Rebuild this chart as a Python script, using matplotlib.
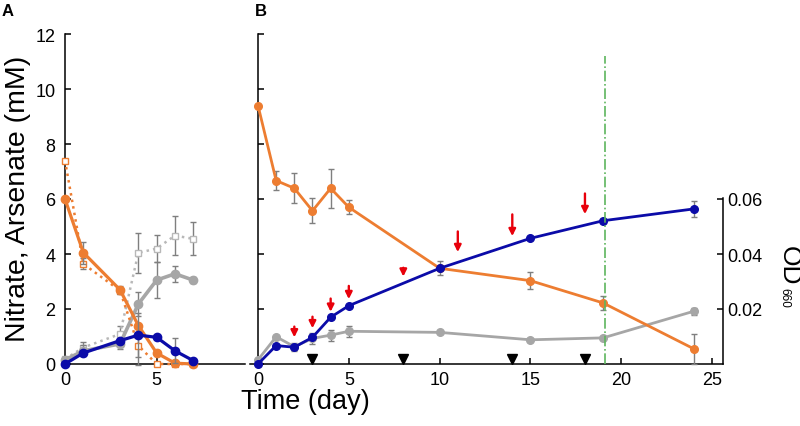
import numpy as np
import matplotlib.pyplot as plt

plt.rcParams['font.family'] = ['Liberation Sans', 'DejaVu Sans']

ORANGE = '#ED7D31'
BLUE = '#0B0BA8'
GRAY = '#A6A6A6'
LIGHTGRAY = '#B8B8B8'
ERR = '#7F7F7F'

# ---- panel A (mM) ----
tA = [0, 1, 3, 4, 5, 6, 7]
a_orange = [6.0, 4.05, 2.7, 1.4, 0.4, 0.03, 0.0]
a_orange_err = [0, 0.4, 0.15, 0, 0, 0, 0]
a_orange_dot = [7.4, 3.64, 2.67, 0.67, 0.0, 0.0, 0.0]
a_orange_dot_err = [0, 0.2, 0.1, 0.7, 0, 0, 0]
a_gray = [0.15, 0.48, 0.73, 2.18, 3.05, 3.28, 3.05]
a_gray_err = [0, 0.2, 0.2, 0.45, 0.65, 0.3, 0.1]
a_gray_dot = [0.18, 0.6, 1.09, 4.04, 4.2, 4.67, 4.55]
a_gray_dot_err = [0, 0.2, 0.3, 0.72, 0.5, 0.72, 0.6]
a_blue = [0.0, 0.4, 0.85, 1.05, 0.97, 0.48, 0.12]
a_blue_err = [0, 0, 0, 0.8, 0, 0.45, 0]

# ---- panel B ----
tB = [0, 1, 2, 3, 4, 5, 10, 15, 19, 24]
b_orange = [9.4, 6.67, 6.39, 5.57, 6.39, 5.7, 3.48, 3.03, 2.22, 0.55]
b_orange_err = [0, 0.35, 0.55, 0.45, 0.7, 0.25, 0, 0.3, 0.25, 0.54]
b_gray = [0.15, 0.99, 0.63, 0.93, 1.05, 1.19, 1.15, 0.88, 0.95, 1.92]
b_gray_err = [0, 0, 0.15, 0.2, 0.2, 0.2, 0, 0, 0, 0.12]
b_od = [0.0, 0.0067, 0.0061, 0.0097, 0.017, 0.0212, 0.0348, 0.0457, 0.0521, 0.0564]
b_od_err = [0, 0, 0, 0, 0, 0, 0.0025, 0, 0, 0.0028]

arrow_x = [2, 3, 4, 5, 8, 11, 14, 18]
arrow_top = [1.36, 1.72, 2.38, 2.84, 3.50, 4.82, 5.44, 6.20]
arrow_bottom = [0.97, 1.30, 1.90, 2.36, 3.18, 4.07, 4.65, 5.45]
tri_x = [3, 8, 14, 18]
vline_x = 19.1

fig = plt.figure(figsize=(8, 4.27), dpi=100)
W, H = 800, 427
axA = fig.add_axes([65 / W, 62 / H, 180 / W, 330 / H])
axB = fig.add_axes([250 / W, 62 / H, 473 / W, 330 / H])


def series(ax, x, y, err, color, ls='-', lw=2.0, marker='o', ms=5.5, mfc=None, z=3):
    ax.errorbar(x, y, yerr=err, fmt='none', ecolor=ERR, elinewidth=1.0,
                capsize=2.5, capthick=1.0, zorder=z - 0.5, clip_on=False)
    ax.plot(x, y, ls=ls, color=color, lw=lw, marker=marker, ms=ms,
            mfc=mfc if mfc else color, mec=color, mew=1.0, zorder=z, clip_on=False)


# panel A
series(axA, tA, a_gray_dot, a_gray_dot_err, LIGHTGRAY, ls=':', lw=1.8, marker='s', ms=4.5, mfc='white', z=2)
series(axA, tA, a_gray, a_gray_err, GRAY, lw=2.6, ms=6, z=3)
series(axA, tA, a_orange_dot, a_orange_dot_err, ORANGE, ls=':', lw=1.8, marker='s', ms=4.5, mfc='white', z=4)
series(axA, tA, a_orange, a_orange_err, ORANGE, lw=2.3, ms=6, z=5)
series(axA, tA, a_blue, a_blue_err, BLUE, lw=2.3, ms=6, z=6)

axA.set_xlim(0, 9.82)
axA.set_ylim(0, 12)
axA.set_xticks([0, 5])
axA.set_yticks(range(0, 13, 2))
axA.tick_params(direction='in', labelsize=13, length=4, width=1.1)
axA.tick_params(axis='x', pad=5)
axA.tick_params(axis='y', pad=7)
for s in ['top', 'right']:
    axA.spines[s].set_visible(False)
for s in ['left', 'bottom']:
    axA.spines[s].set_linewidth(1.1)

# panel B
series(axB, tB, b_gray, b_gray_err, GRAY, lw=2.0, ms=5.5, z=3)
series(axB, tB, b_orange, b_orange_err, ORANGE, lw=2.0, ms=5.5, z=4)
for x, y0, y1 in zip(arrow_x, arrow_top, arrow_bottom):
    axB.annotate('', xy=(x, y1), xytext=(x, y0),
                 arrowprops=dict(arrowstyle='-|>', color='#E8000B', lw=1.7,
                                 mutation_scale=10, shrinkA=0, shrinkB=0), zorder=6)
axB.plot(tri_x, [0.2] * len(tri_x), 'v', color='black', ms=7, clip_on=False, zorder=6)

axB.set_xlim(-0.44, 25.6)
axB.set_ylim(0, 12)
axB.spines['left'].set_position(('data', 0))
axB.set_xticks(range(0, 26, 5))
axB.set_yticks(range(0, 13, 2))
axB.set_yticklabels([])
axB.tick_params(direction='in', labelsize=13, length=4, width=1.1)
axB.tick_params(axis='x', pad=5)
for s in ['top', 'right']:
    axB.spines[s].set_visible(False)
for s in ['left', 'bottom']:
    axB.spines[s].set_linewidth(1.1)

axB2 = axB.twinx()
series(axB2, tB, b_od, b_od_err, BLUE, lw=2.0, ms=5.5, z=5)
axB2.axvline(vline_x, ymin=0, ymax=11.2 / 12, color='#5DB55D', ls='-.', lw=1.2, zorder=7)
axB2.set_ylim(0, 0.12)
axB2.set_yticks([0.02, 0.04, 0.06])
axB2.set_yticklabels(['0.02', '0.04', '0.06'])
axB2.spines['right'].set_bounds(0, 0.0605)
axB2.spines['right'].set_linewidth(1.1)
for s in ['top', 'left', 'bottom']:
    axB2.spines[s].set_visible(False)
axB2.tick_params(direction='in', labelsize=13, length=4, width=1.1, pad=3)

# labels
fig.text(18 / W, 1 - 199 / H, 'Nitrate, Arsenate (mM)', rotation=90,
         fontsize=20.5, ha='center', va='center')
fig.text(305 / W, 1 - 402 / H, 'Time (day)', fontsize=19.5, ha='center', va='center')
fig.text(789 / W, 1 - 266 / H, 'OD', rotation=270, fontsize=19, ha='center', va='center')
fig.text(784 / W, 1 - 298 / H, '660', rotation=270, fontsize=8.5, ha='center', va='center')
fig.text(8 / W, 1 - 12 / H, 'A', fontsize=12, fontweight='bold', ha='center', va='center')
fig.text(261 / W, 1 - 11 / H, 'B', fontsize=12, fontweight='bold', ha='center', va='center')

fig.savefig('out.png', dpi=100)
